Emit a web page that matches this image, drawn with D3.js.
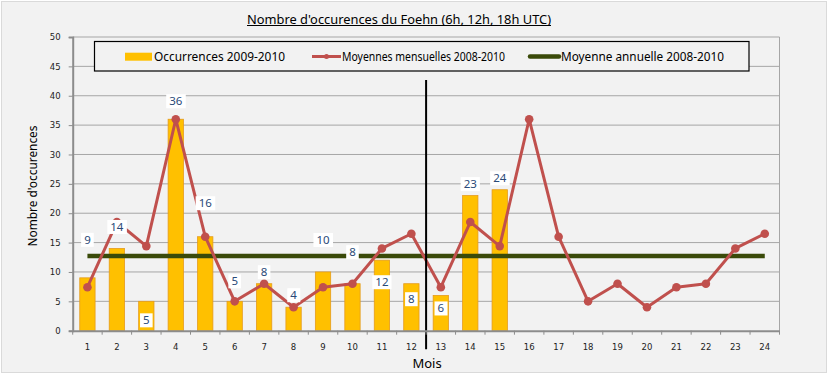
<!DOCTYPE html>
<html><head><meta charset="utf-8">
<script src="https://cdn.jsdelivr.net/npm/d3@7"></script>
<style>html,body{margin:0;padding:0;background:#fff;}svg{display:block;}</style>
</head><body>
<script>
// ---- data ----
const months = ["1","2","3","4","5","6","7","8","9","10","11","12","13","14","15","16","17","18","19","20","21","22","23","24"];
const occurrences = [9,14,5,36,16,5,8,4,10,8,12,8,6,23,24]; // months 1..15
const monthlyMeans = [7.4,18.5,14.4,36,16,5,8,4,7.4,8,14,16.5,7.4,18.5,14.4,36,16,5,8,4,7.4,8,14,16.5];
const annualMean = 12.7;
const yTicks = [0,5,10,15,20,25,30,35,40,45,50];
const seriesNames = ["Occurrences 2009-2010","Moyennes mensuelles 2008-2010","Moyenne annuelle 2008-2010"];
const titleText = "Nombre d'occurences du Foehn (6h, 12h, 18h UTC)";
const yTitle = "Nombre d'occurences";
const xTitle = "Mois";
const dividerAfter = "12";

// layout (pixel offsets of the hand-placed data labels, relative to bar top)
const labelDy = [-38,-21.5,19,-18,-33.5,-20,-11.5,-12,-32,-31.5,22,15.5,13,-11.5,-11.5];

const W = 829, H = 375;
const m = {l:72.7, r:W-779.5, t:37, b:H-330.7};
const svg = d3.select("body").append("svg").attr("width",W).attr("height",H);
svg.append("rect").attr("x",1.5).attr("y",1.5).attr("width",W-4).attr("height",H-4)
  .attr("fill","#F2F2F2").attr("stroke","#DADADA");

const x = d3.scaleBand().domain(months).range([m.l, W-m.r]);
const y = d3.scaleLinear().domain([0,50]).range([H-m.b, m.t]);
const g = svg.append("g");

// gridlines
g.selectAll("line.grid").data(yTicks.filter(d=>d>0)).join("line")
  .attr("x1",m.l).attr("x2",W-m.r).attr("y1",d=>y(d)).attr("y2",d=>y(d))
  .attr("stroke","#A6A6A6").attr("stroke-width",1);
// right border
g.append("line").attr("x1",W-m.r).attr("x2",W-m.r).attr("y1",y(50)).attr("y2",y(0))
  .attr("stroke","#A6A6A6");

// axes
const yAxis = d3.axisLeft(y).tickValues(yTicks).tickSize(4).tickPadding(8);
const ya = svg.append("g").attr("transform",`translate(${m.l},0)`).call(yAxis);
const xa = svg.append("g").attr("transform",`translate(0,${y(0)})`)
  .call(d3.axisBottom(x).tickSize(0).tickPadding(13));
[ya,xa].forEach(a=>{
  a.selectAll("text").attr("font-family","DejaVu Sans").attr("font-size",8.5).attr("fill","#222");
  a.select(".domain").attr("stroke","#8C8C8C").attr("stroke-width",2);
  a.selectAll(".tick line").attr("stroke","#8C8C8C");
});
// x tick marks at band boundaries
xa.selectAll("line.bt").data(months.concat(["end"])).join("line")
  .attr("x1",(d,i)=>m.l+i*x.step()).attr("x2",(d,i)=>m.l+i*x.step())
  .attr("y1",0).attr("y2",4).attr("stroke","#8C8C8C");

// bars
const bw = x.bandwidth()*0.52;
g.selectAll("rect.bar").data(occurrences).join("rect")
  .attr("x",(d,i)=>x(months[i])+x.bandwidth()/2-bw/2).attr("width",bw)
  .attr("y",d=>y(d)).attr("height",d=>y(0)-y(d))
  .attr("fill","#FFC000").attr("stroke","#E59B1C").attr("stroke-width",0.8);

// annual mean line
g.append("line").attr("x1",x(months[0])+x.bandwidth()/2).attr("x2",x(months[23])+x.bandwidth()/2)
  .attr("y1",y(annualMean)).attr("y2",y(annualMean))
  .attr("stroke","#3A4A09").attr("stroke-width",4.5);

// monthly means line
const line = d3.line().x((d,i)=>x(months[i])+x.bandwidth()/2).y(d=>y(d));
g.append("path").datum(monthlyMeans).attr("d",line).attr("fill","none")
  .attr("stroke","#C0504D").attr("stroke-width",3).attr("stroke-linejoin","round");
g.selectAll("circle.pt").data(monthlyMeans).join("circle")
  .attr("cx",(d,i)=>x(months[i])+x.bandwidth()/2).attr("cy",d=>y(d)).attr("r",4.3)
  .attr("fill","#C0504D");

// divider
const dx = x(dividerAfter)+x.step();
g.append("line").attr("x1",dx).attr("x2",dx).attr("y1",y(42.7)).attr("y2",y(0)+18.6)
  .attr("stroke","#000").attr("stroke-width",2);

// data labels
const lg = svg.append("g");
occurrences.forEach((d,i)=>{
  const cx = x(months[i])+x.bandwidth()/2, cy = y(d)+labelDy[i];
  const t = lg.append("text").attr("x",cx).attr("y",cy+4).attr("text-anchor","middle")
    .attr("font-family","Noto Sans").attr("font-size",11.5).attr("fill","#2A4A78").text(d);
  const bb = t.node().getBBox();
  lg.insert("rect","text").attr("x",bb.x-3).attr("y",cy-7).attr("width",bb.width+6).attr("height",14)
    .attr("fill","#fff");
});
lg.selectAll("text").raise();

// legend
const leg = svg.append("g");
leg.append("rect").attr("x",94.5).attr("y",41.5).attr("width",654.5).attr("height",29.5)
  .attr("fill","#F2F2F2").attr("stroke","#000").attr("stroke-width",1.2);
leg.append("rect").attr("x",125).attr("y",52.7).attr("width",27).attr("height",8).attr("fill","#FFC000");
leg.append("line").attr("x1",312).attr("x2",341).attr("y1",56.5).attr("y2",56.5).attr("stroke","#C0504D").attr("stroke-width",3);
leg.append("circle").attr("cx",326.5).attr("cy",56.5).attr("r",2.5).attr("fill","#C0504D");
leg.append("line").attr("x1",530).attr("x2",559).attr("y1",56.5).attr("y2",56.5).attr("stroke","#3A4A09").attr("stroke-width",4.5).attr("stroke-linecap","round");
const legText = [[154,131],[342,163],[561,163]];
seriesNames.forEach((s,i)=>{
  leg.append("text").attr("x",legText[i][0]).attr("y",61).attr("font-family","Noto Sans").attr("font-size",12)
    .attr("fill","#000").attr("textLength",legText[i][1]).attr("lengthAdjust","spacingAndGlyphs").text(s);
});

// titles
svg.append("text").attr("x",399).attr("y",23.5).attr("text-anchor","middle")
  .attr("font-family","Noto Sans").attr("font-size",13).attr("fill","#000")
  .attr("textLength",304).attr("lengthAdjust","spacingAndGlyphs").text(titleText);
svg.append("line").attr("x1",247).attr("x2",551).attr("y1",25.5).attr("y2",25.5).attr("stroke","#000").attr("stroke-width",1);
svg.append("text").attr("transform","translate(37,186) rotate(-90)").attr("text-anchor","middle")
  .attr("font-family","Noto Sans").attr("font-size",12.5).attr("fill","#000")
  .attr("textLength",121).attr("lengthAdjust","spacingAndGlyphs").text(yTitle);
svg.append("text").attr("x",427).attr("y",368).attr("text-anchor","middle")
  .attr("font-family","Noto Sans").attr("font-size",13).attr("fill","#000").text(xTitle);
</script>
</body></html>
